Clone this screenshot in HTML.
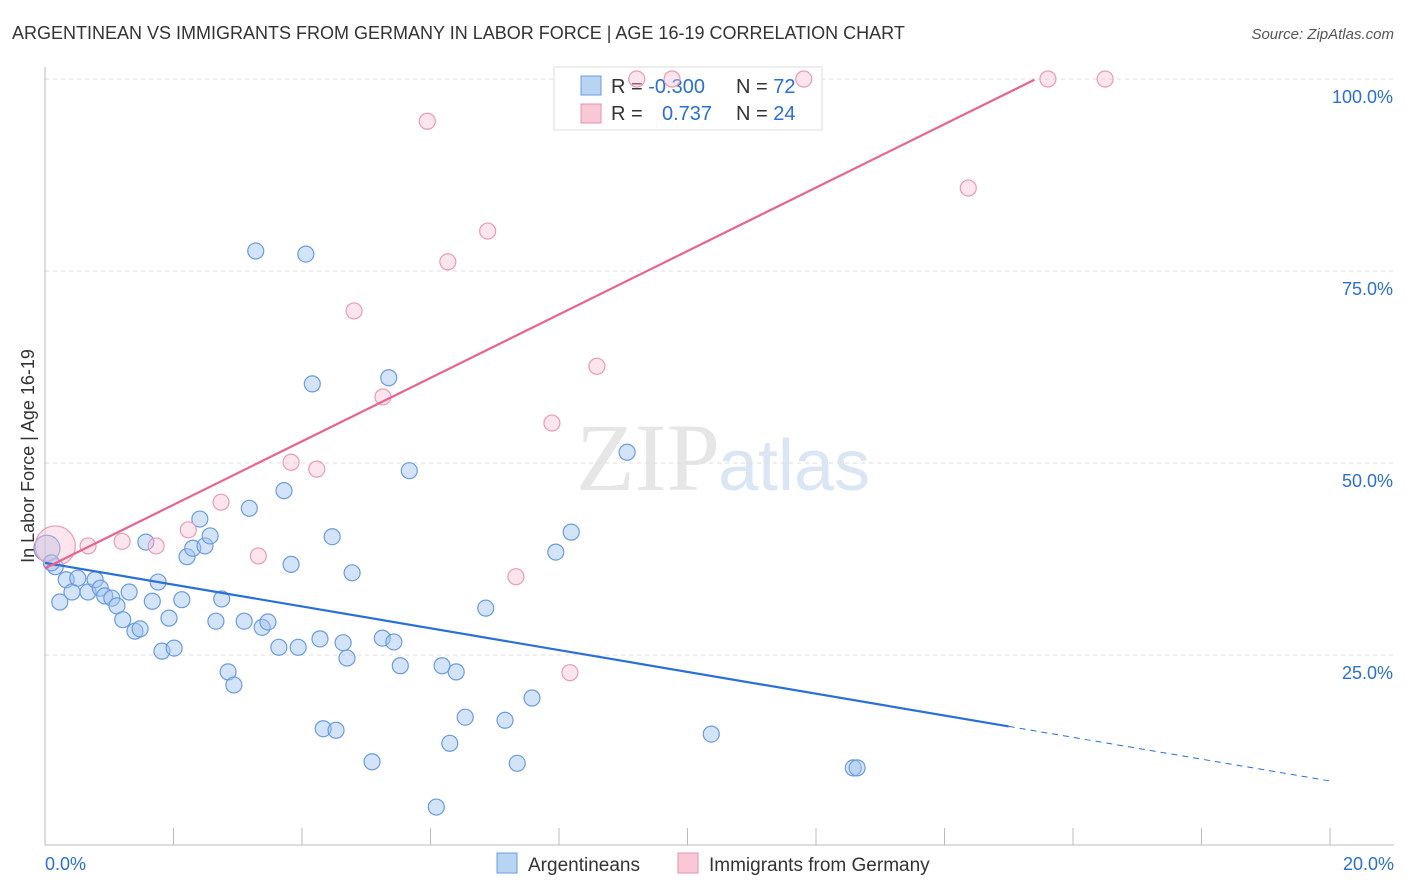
<!DOCTYPE html>
<html><head><meta charset="utf-8"><style>
body{margin:0;background:#fff;font-family:"Liberation Sans",sans-serif;}
svg{display:block}
</style></head><body>
<svg id="chart" width="1406" height="892" xmlns="http://www.w3.org/2000/svg" font-family="Liberation Sans, sans-serif">
<text x="12" y="39" font-size="18" fill="#333">ARGENTINEAN VS IMMIGRANTS FROM GERMANY IN LABOR FORCE | AGE 16-19 CORRELATION CHART</text>
<text x="1394" y="39" font-size="15" fill="#555" text-anchor="end" font-style="italic">Source: ZipAtlas.com</text>
<text x="720" y="490" font-size="96" fill="#e6e6e6" text-anchor="end" font-family="Liberation Serif, serif">ZIP</text>
<text x="718" y="490" font-size="72" fill="#dbe6f5">atlas</text>
<text transform="translate(34,456) rotate(-90)" font-size="18" fill="#333" text-anchor="middle">In Labor Force | Age 16-19</text>
<g id="grid"></g>
<g>
<rect x="554" y="67" width="268" height="63" fill="#fff" stroke="#ddd"/>
<rect x="581" y="76" width="20" height="19" fill="#b9d3f3" stroke="#6a9be0"/>
<rect x="581" y="104" width="20" height="19" fill="#f8c8d6" stroke="#e890aa"/>
<text x="611" y="93" font-size="20" fill="#333">R = <tspan fill="#2a6fd6">-0.300</tspan></text>
<text x="736" y="93" font-size="20" fill="#333">N = <tspan fill="#2a6fd6">72</tspan></text>
<text x="611" y="120" font-size="20" fill="#333">R = </text><text x="662" y="120" font-size="20" fill="#2a6fd6">0.737</text>
<text x="736" y="120" font-size="20" fill="#333">N = <tspan fill="#2a6fd6">24</tspan></text>
</g>
<g id="marks"></g>
<g>
<rect x="497" y="853" width="20" height="20" fill="#b9d3f3" stroke="#6a9be0"/>
<text x="528" y="871" font-size="19" fill="#333">Argentineans</text>
<rect x="678" y="853" width="20" height="20" fill="#f8c8d6" stroke="#e890aa"/>
<text x="709" y="871" font-size="19" fill="#333">Immigrants from Germany</text>
</g>
</svg>
<script>
const blueX=[0.03,0.16,0.23,0.33,0.42,0.51,0.67,0.78,0.86,0.93,1.04,1.12,1.21,1.31,1.40,1.48,1.57,1.67,1.76,1.82,1.93,2.01,2.13,2.21,2.30,2.41,2.49,2.57,2.66,2.75,2.85,2.94,3.10,3.18,3.28,3.38,3.47,3.64,3.72,3.83,3.94,4.06,4.16,4.28,4.33,4.47,4.53,4.64,4.70,4.78,5.09,5.25,5.35,5.43,5.53,5.67,6.09,6.18,6.30,6.40,6.54,6.86,7.16,7.35,7.58,7.95,8.19,9.06,10.37,12.58,12.64,0.10];
const blueY=[38.9,36.5,31.9,34.8,33.2,35.0,33.2,34.8,33.7,32.7,32.4,31.4,29.6,33.2,28.1,28.4,39.7,32.0,34.5,25.5,29.8,25.9,32.2,37.8,38.9,42.7,39.2,40.5,29.4,32.3,22.8,21.1,29.4,44.1,77.6,28.6,29.3,26.0,46.4,36.8,26.0,77.2,60.3,27.1,15.4,40.4,15.2,26.6,24.6,35.7,11.1,27.2,61.1,26.7,23.6,49.0,5.2,23.6,13.5,22.8,16.9,31.1,16.5,10.9,19.4,38.4,41.0,51.4,14.7,10.3,10.3,37.0];
const pinkX=[0.16,0.67,1.20,1.73,2.23,2.74,3.32,3.83,4.23,4.81,5.26,5.95,6.27,6.89,7.33,7.89,8.17,8.59,9.21,9.76,11.81,14.37,15.61,16.50];
const pinkY=[39.2,39.2,39.8,39.2,41.3,44.9,37.9,50.1,49.2,69.8,58.6,94.5,76.2,80.2,35.2,55.2,22.7,62.6,100,100,100,85.8,100,100];
const blueTrend=[37.0,8.6];const blueSolidEnd=15.0;
const pinkTrend=[36.3,4.13];const pinkEnd=15.4;
const yTicks=[25,50,75,100];const yTickLabels=["25.0%","50.0%","75.0%","100.0%"];
const xTicks=[0,2,4,6,8,10,12,14,16,18,20];
const NS="http://www.w3.org/2000/svg";
const X=v=>45+v/20*1285, Y=v=>847-v/100*768;
const g=document.getElementById('grid'),m=document.getElementById('marks');
function el(t,a,p){const e=document.createElementNS(NS,t);for(const k in a)e.setAttribute(k,a[k]);p.appendChild(e);return e;}
yTicks.forEach((t,i)=>{
 const l=el('line',{x1:45,x2:1394,y1:Y(t),y2:Y(t),stroke:'#ddd','stroke-dasharray':'4,4'},g);
 
 
 const tx=el('text',{x:1393,y:Y(t)+24,'font-size':18,fill:'#2a6fd6','text-anchor':'end'},g);tx.textContent=yTickLabels[i];
 
 
});
el('line',{x1:45,x2:45,y1:67,y2:845,stroke:'#bbb'},g);
el('line',{x1:45,x2:1394,y1:845,y2:845,stroke:'#bbb'},g);
xTicks.forEach(t=>{const l=el('line',{x1:X(t),x2:X(t),y1:828,y2:845,stroke:'#bbb'},g);
 
 });
[[0,'0.0%','start',45],[20,'20.0%','end',1394]].forEach(a=>{const tx=el('text',{x:a[3],y:870,'font-size':18,fill:'#2a6fd6','text-anchor':a[2]},g);tx.textContent=a[1];
 
 });
blueX.forEach((x,i)=>{const r=i==0?13:8;const c=el('circle',{cx:X(x),cy:Y(blueY[i]),r:r,fill:'rgba(160,195,240,0.45)',stroke:'#6a9be0','stroke-width':1.2},m);
 
 });
pinkX.forEach((x,i)=>{const r=i==0?20:8;const c=el('circle',{cx:X(x),cy:Y(pinkY[i]),r:r,fill:'rgba(248,190,210,0.4)',stroke:'#eb9ab3','stroke-width':1.2},m);
 
 });
const by=x=>blueTrend[0]+(blueTrend[1]-blueTrend[0])*x/20;
const bl=el('line',{x1:X(0),y1:Y(by(0)),x2:X(blueSolidEnd),y2:Y(by(blueSolidEnd)),stroke:'#2a6fd6','stroke-width':2.2},m);


const bd=el('line',{x1:X(blueSolidEnd),y1:Y(by(blueSolidEnd)),x2:X(20),y2:Y(by(20)),stroke:'#2a6fd6','stroke-width':1,'stroke-dasharray':'6,5'},m);


const pl=el('line',{x1:X(0),y1:Y(pinkTrend[0]),x2:X(pinkEnd),y2:Y(pinkTrend[0]+pinkTrend[1]*pinkEnd),stroke:'#e8648f','stroke-width':2.2},m);


</script>
</body></html>
